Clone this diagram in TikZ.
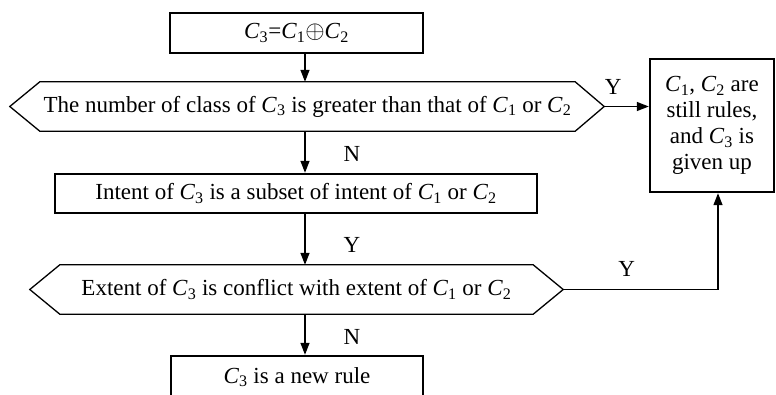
\documentclass[tikz,border=0pt]{standalone}
\usepackage{fontspec}
\setmainfont{Liberation Serif}
\usetikzlibrary{arrows.meta}
\newcommand{\cls}[1]{\textit{C}\textsubscript{#1}}
\tikzset{
  box/.style={draw, line width=2.4pt, minimum height=40pt, inner sep=0pt},
  hexlabel/.style={inner sep=0pt, minimum height=49pt},
  hexline/.style={line width=1.3pt, line join=miter},
  flow/.style={line width=1.3pt, -{Triangle[length=12pt,width=9pt]}},
  yn/.style={inner sep=0pt},
}
\begin{document}
\begin{tikzpicture}[x=1pt, y=-1pt, font=\fontsize{23}{26}\selectfont]
\useasboundingbox (0,0) rectangle (776,394);
\clip (0,0) rectangle (776,394);
\def\hs{30}
\coordinate (A) at (305,0);
\coordinate (B) at (718,0);
% Kaesten und Abfragen
\node[box, minimum width=253pt] (top) at (296.5,33) {\cls{3}=\cls{1}$\oplus$\cls{2}};
\node[hexlabel, minimum width=535pt] (q1) at (307.5,106.5)
  {The number of class of \cls{3} is greater than that of \cls{1} or \cls{2}};
\node[box, minimum width=482pt, minimum height=39pt] (intent) at (296,193.5)
  {Intent of \cls{3} is a subset of intent of \cls{1} or \cls{2}};
\node[hexlabel, minimum width=473pt] (q2) at (296.5,289.5)
  {Extent of \cls{3} is conflict with extent of \cls{1} or \cls{2}};
\node[box, minimum width=252pt, minimum height=42pt] (new) at (297,377) {\cls{3} is a new rule};
\node[box, minimum width=124pt, minimum height=133pt, align=center] (out) at (712,125.5)
  {\cls{1}, \cls{2} are\\still rules,\\and \cls{3} is\\given up};
% Spitzen der Sechsecke
\coordinate (q1w) at ([xshift=-\hs pt]q1.west);
\coordinate (q1e) at ([xshift=29pt]q1.east);
\coordinate (q2w) at ([xshift=-\hs pt]q2.west);
\coordinate (q2e) at ([xshift=\hs pt]q2.east);
\draw[hexline] (q1.north west) -- (q1.north east) -- (q1e) -- (q1.south east)
  -- (q1.south west) -- (q1w) -- cycle;
\draw[hexline] (q2.north west) -- (q2.north east) -- (q2e) -- (q2.south east)
  -- (q2.south west) -- (q2w) -- cycle;
% Pfeile
\draw[flow] (top.south -| A) -- (q1.north -| A);
\draw[flow] (q1.south -| A) -- node[yn, pos=.55, xshift=47pt] (n1) {N} (intent.north -| A);
\draw[flow] (intent.south -| A) -- node[yn, pos=.6, xshift=47pt] (y2) {Y} (q2.north -| A);
\draw[flow] (q2.south -| A) -- node[yn, pos=.55, xshift=47pt] (n3) {N} (new.north -| A);
\draw[flow] (q1e) -- node[yn, pos=.2, yshift=20pt] (y1) {Y} (out.west |- q1e);
\draw[flow] (q2e) -- node[yn, pos=.41, yshift=21pt] (y3) {Y} (q2e -| B) -- (out.south -| B);
\end{tikzpicture}
\end{document}
